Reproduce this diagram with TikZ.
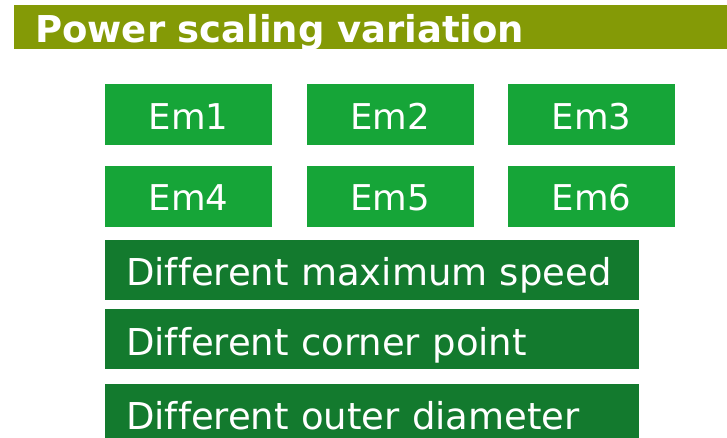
\documentclass[tikz,border=0pt]{standalone}
\usepackage{fontspec}
\setmainfont[Ligatures=NoCommon]{DejaVu Sans}
\usetikzlibrary{positioning}
\definecolor{titleolive}{RGB}{132,154,6}
\definecolor{emgreen}{RGB}{22,165,56}
\definecolor{diffgreen}{RGB}{19,122,46}

\begin{document}
\begin{tikzpicture}[x=1pt,y=1pt,
  embox/.style={fill=emgreen,text=white,minimum width=167pt,inner sep=0pt,
    text height=45pt,text depth=16pt,font=\fontsize{35.5}{42}\selectfont},
  diffbox/.style={fill=diffgreen,text=white,text width=492pt,inner xsep=21pt,inner ysep=0pt,
    text height=46pt,text depth=14pt,align=left,font=\fontsize{37}{44}\selectfont}]
  \clip (0,0) rectangle (727,438);
  \fill[white] (0,0) rectangle (727,438);
  \node[fill=titleolive,text=white,anchor=north west,text width=671pt,inner xsep=21pt,inner ysep=0pt,
    text height=37pt,text depth=7pt,align=left,font=\bfseries\fontsize{37}{44}\selectfont]
    (title) at (14,433) {Power scaling variation};
  % machines
  \node[embox,anchor=north west] (em1) at (105,354) {Em1};
  \node[embox,right=34pt of em1] (em2) {Em2};
  \node[embox,right=34pt of em2] (em3) {Em3};
  \node[embox,below=20pt of em1] (em4) {Em4};
  \node[embox,right=34pt of em4] (em5) {Em5};
  \node[embox,right=34pt of em5] (em6) {Em6};
  % variations
  \node[diffbox,below=13pt of em4.south west,anchor=north west] (speed) {Different maximum speed};
  \node[diffbox,below=9pt of speed] (corner) {Different corner point};
  \node[diffbox,below=14pt of corner] (diam) {Different outer diameter};
\end{tikzpicture}
\end{document}
